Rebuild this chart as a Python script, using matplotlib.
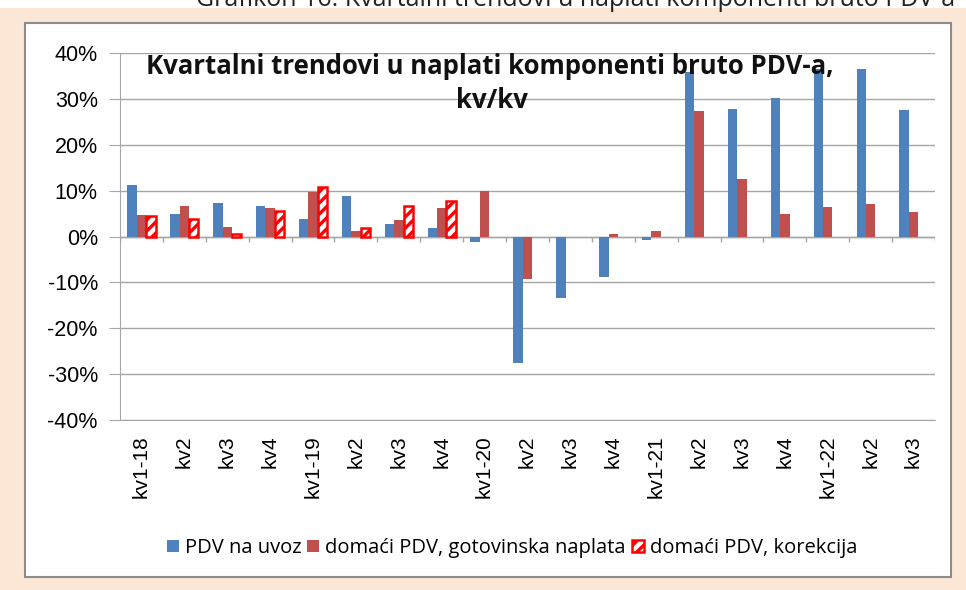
import numpy as np
import matplotlib
matplotlib.use("Agg")
import matplotlib.pyplot as plt
from matplotlib.patches import Rectangle
from matplotlib.ticker import FuncFormatter

# quarters on the x axis
categories = ["kv1-18", "kv2", "kv3", "kv4",
              "kv1-19", "kv2", "kv3", "kv4",
              "kv1-20", "kv2", "kv3", "kv4",
              "kv1-21", "kv2", "kv3", "kv4",
              "kv1-22", "kv2", "kv3"]

# y/y change, in percent
pdv_uvoz = [11.3, 4.9, 7.4, 6.6, 3.8, 8.8, 2.7, 1.8,
            -1.2, -27.5, -13.4, -8.8, -0.7, 35.9, 27.8, 30.2, 36.6, 36.6, 27.6]
domaci_gotovinska = [4.7, 6.6, 2.1, 6.3, 9.6, 1.2, 3.7, 6.3,
                     10.0, -9.2, 0.0, 0.5, 1.3, 27.3, 12.6, 5.0, 6.4, 7.0, 5.3]
domaci_korekcija = [4.4, 3.8, 0.5, 5.5, 10.7, 1.8, 6.6, 7.7]

series_names = ["PDV na uvoz", "domaći PDV, gotovinska naplata", "domaći PDV, korekcija"]

blue = "#4f81bd"
red = "#c0504d"
grid_col = "#a6a6a6"

plt.rcParams["hatch.linewidth"] = 2.4

W, H = 966, 590
fig = plt.figure(figsize=(W / 100, H / 100), dpi=100)
fig.patch.set_facecolor("white")

# peach page background and the white chart box
fig.patches.append(Rectangle((0, 0), 1, 1 - 8 / H, transform=fig.transFigure,
                             facecolor="#fce6d6", edgecolor="none", zorder=-10))
fig.patches.append(Rectangle((25 / W, 1 - 577 / H), (951 - 25) / W, (577 - 23) / H,
                             transform=fig.transFigure, facecolor="white",
                             edgecolor="#8c8c8c", linewidth=1.5, zorder=-9))

# caption of the page, cut off by the top edge (as in the source)
fig.text(576 / W, 1 - 6 / H, "Grafikon 16: Kvartalni trendovi u naplati komponenti bruto PDV-a",
         ha="center", va="baseline", fontsize=18, family="Open Sans", color="#222222")

ax = fig.add_axes([120 / W, 1 - 420 / H, (935 - 120) / W, (420 - 53) / H])
ax.set_facecolor("none")

x = np.arange(len(categories))
bw = 0.22

ax.bar(x - bw, np.array(pdv_uvoz) / 100, bw, color=blue, label=series_names[0], zorder=3)
ax.bar(x, np.array(domaci_gotovinska) / 100, bw, color=red, label=series_names[1], zorder=3)
xk = np.arange(len(domaci_korekcija))
ax.bar(xk + bw, np.array(domaci_korekcija) / 100, bw, facecolor="white", edgecolor="#ff0000",
       hatch="///", linewidth=1.8, label=series_names[2], zorder=3)

ax.set_xlim(-0.5, len(categories) - 0.5)
ax.set_ylim(-0.4, 0.4)
ax.set_yticks(np.arange(-0.4, 0.41, 0.1))
ax.yaxis.set_major_formatter(FuncFormatter(lambda v, p: "%d%%" % round(v * 100)))
ax.grid(axis="y", color=grid_col, linewidth=1, zorder=0)

# category axis crosses at zero
ax.axhline(0, color=grid_col, linewidth=1, zorder=2)
ax.vlines(np.arange(-0.5, len(categories), 1), -0.012, 0, color=grid_col, linewidth=1, zorder=2)

ax.set_xticks(x)
ax.set_xticklabels(categories, rotation=90, family="Liberation Sans", fontsize=15)
ax.tick_params(axis="x", length=0, pad=11)
ax.tick_params(axis="y", length=8, color=grid_col, labelsize=15.5, pad=8)
for t in ax.get_yticklabels():
    t.set_family("Liberation Sans")

for s in ["top", "right"]:
    ax.spines[s].set_visible(False)
ax.spines["left"].set_color(grid_col)
ax.spines["bottom"].set_color(grid_col)

# chart title, two centred lines
fig.text(490 / W, 1 - 66 / H, "Kvartalni trendovi u naplati komponenti bruto PDV-a,",
         ha="center", va="center", fontsize=18.5, fontweight="bold", family="Open Sans",
         color="#111111")
fig.text(492 / W, 1 - 101 / H, "kv/kv",
         ha="center", va="center", fontsize=18.5, fontweight="bold", family="Open Sans",
         color="#111111")

fig.legend(loc="center", bbox_to_anchor=(512 / W, 1 - 548 / H), ncol=3, frameon=False,
           handlelength=0.6, handleheight=0.6, handletextpad=0.3, columnspacing=0.3,
           prop={"family": "Open Sans", "size": 14.5})

fig.savefig("out.png", dpi=100)
